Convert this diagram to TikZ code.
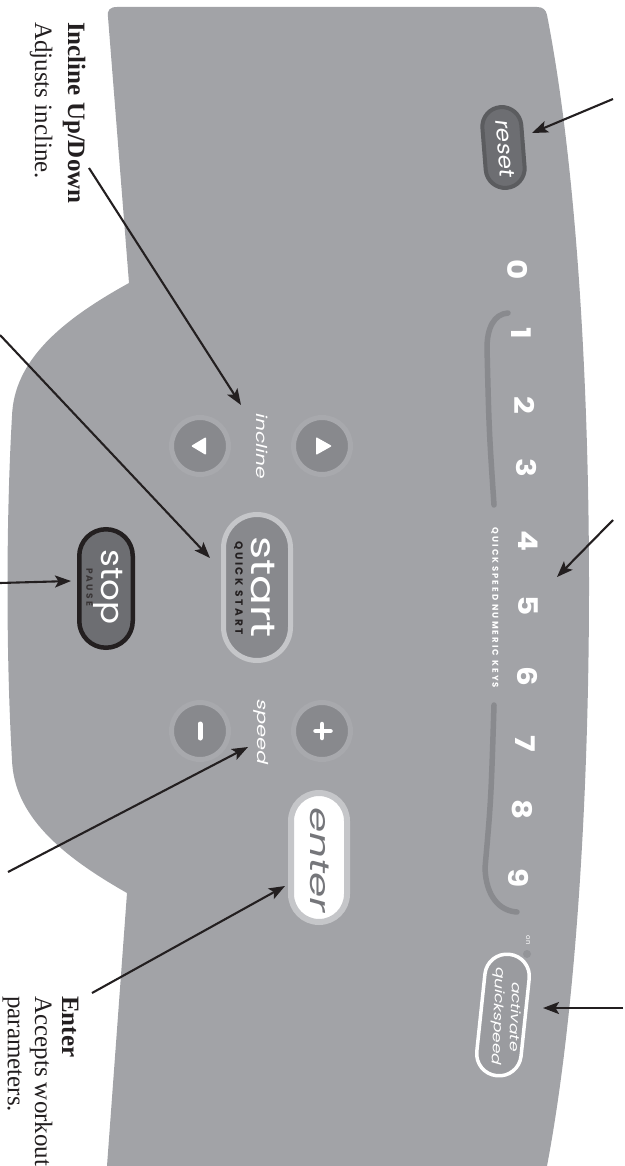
\documentclass[tikz,border=0pt]{standalone}
\usepackage{fontspec}
\setmainfont{Liberation Serif}
\newfontfamily\pf{Poppins}
\newfontfamily\pfi{Poppins}[FakeSlant=0.18]
\newfontfamily\pfs{Poppins}[LetterSpace=25]
\usetikzlibrary{arrows.meta}
\definecolor{panel}{HTML}{A2A3A7}
\definecolor{btn}{HTML}{88898D}
\definecolor{halo}{HTML}{A8A9AD}
\definecolor{rim}{HTML}{C5C6C9}
\definecolor{dkbtn}{HTML}{6D6E72}
\definecolor{rstrim}{HTML}{5B5C5F}
\definecolor{ink}{HTML}{231F20}
\definecolor{groove}{HTML}{898A8E}
\definecolor{actfill}{HTML}{9A9B9F}
\definecolor{entertxt}{HTML}{75767A}
\definecolor{led}{HTML}{939498}
\tikzset{
  callout/.style={draw=ink, line width=2.1pt, -{Stealth[length=16pt,width=12pt,inset=3.5pt]}},
  pill/.style={rectangle, rounded corners=#1, inner sep=0pt},
  roundbtn/.style={circle, fill=btn, draw=halo, line width=5pt, minimum size=57pt, inner sep=0pt},
  lbl/.style={rotate=-90, anchor=base west, inner sep=0pt, text=ink, font=\fontsize{25}{30}\selectfont},
  wtxt/.style={text=white, inner sep=0pt},
}
\begin{document}
\begin{tikzpicture}[x=1pt,y=-1pt]
\useasboundingbox (0,0) rectangle (624,1166);
\clip (0,0) rectangle (624,1166);
% panel
\fill[panel] (108,17) .. controls (107,10) and (110,7) .. (117,7) -- (537,7)
  .. controls (543,7) and (546,10) .. (547,15)
  .. controls (603,300) and (603,870) .. (547,1166) -- (107,1166) -- (127,893)
  .. controls (60,855) and (14,815) .. (12,760)
  .. controls (6,656) and (6,520) .. (12,416)
  .. controls (14,361) and (60,321) .. (129,283) -- cycle;
% groove
\draw[groove, line width=5.5pt, line cap=round] (508,313) .. controls (494,314) and (487,328) .. (487,348) .. controls (489,430) .. (494,505);
\draw[groove, line width=5.5pt, line cap=round] (494,705) .. controls (491,800) .. (485,868) .. controls (486,897) and (500,911) .. (517,912);
\node[rotate=-90, inner sep=0pt, text=white] (qslabel) at (495,608) {\fontsize{8.5}{8.5}\pfs\bfseries QUICKSPEED NUMERIC KEYS};
% reset
\node[pill=19.5pt, fill=dkbtn, draw=rstrim, line width=4pt, minimum width=81pt, minimum height=39pt, rotate=-85.5] (reset) at (503.5,147.5) {};
\node[wtxt, rotate=-85.5] (resettxt) at (505,147.5) {\scalebox{1.1}[1]{\fontsize{21}{21}\pfi reset}};
% numeric keys
\foreach \d/\xx/\yy in {0/518/270,1/521.6/333,2/524.7/405,3/526.6/468,4/527.8/541,5/528/606,6/527.1/676,7/525.3/744,8/522.7/810,9/519/878}
  \node[wtxt, rotate=-90] (key\d) at (\xx,\yy) {\scalebox{1.15}[1]{\fontsize{27}{27}\pf\bfseries \d}};
% on led
\node[rotate=-90, inner sep=0pt, text=white] (ontxt) at (528,940) {\fontsize{7}{7}\pf on};
\node[circle, fill=led, minimum size=8pt, inner sep=0pt] (led) at (527,954) {};
% activate quickspeed
\node[pill=22pt, fill=actfill, draw=white, line width=3.5pt, minimum width=122pt, minimum height=44.5pt, rotate=-96] (activate) at (503,1015) {};
\node[wtxt, rotate=-92.5, align=center, font=\fontsize{13}{17}\pfi] (acttxt) at (506,1015.5) {\scalebox{1.3}[1]{activate}\\\scalebox{1.3}[1]{quickspeed}};
% incline buttons
\node[roundbtn] (incdown) at (200,446) {};
\node[roundbtn] (incup) at (322,446) {};
\fill[white, rounded corners=1pt] (191,446) -- (206,437) -- (206,455) -- cycle;
\fill[white, rounded corners=1pt] (332,446) -- (316,437) -- (316,455) -- cycle;
\node[wtxt, rotate=-90] (incltxt) at (262,445) {\scalebox{1.35}[1]{\fontsize{15}{15}\pfi incline}};
% speed buttons
\node[roundbtn] (spdminus) at (200,731) {};
\node[roundbtn] (spdplus) at (322,731) {};
\draw[white, line width=4.5pt, line cap=round] (315.5,731) -- (330.5,731) (322,724) -- (322,738);
\draw[white, line width=5pt, line cap=round] (200,724) -- (200,738);
\node[wtxt, rotate=-90] (spdtxt) at (261,731) {\scalebox{1.4}[1]{\fontsize{15}{15}\pfi speed}};
% start
\node[pill=33.5pt, fill=btn, draw=rim, line width=5pt, minimum width=146pt, minimum height=67pt, rotate=-90] (start) at (257,587.5) {};
\node[wtxt, rotate=-90] (starttxt) at (263,587) {\scalebox{1.3}[1]{\fontsize{34}{34}\pf start}};
\node[rotate=-90, inner sep=0pt, text=ink] (qstart) at (238.5,588) {\fontsize{10.5}{10.5}\pfs\bfseries QUICK START};
% stop
\node[pill=26.75pt, fill=dkbtn, draw=ink, line width=4.5pt, minimum width=118.5pt, minimum height=53.5pt, rotate=-90] (stop) at (106,588.5) {};
\node[wtxt, rotate=-90] (stoptxt) at (108,587) {\scalebox{1.1}[1]{\fontsize{31}{31}\pf stop}};
\node[rotate=-90, inner sep=0pt, text=ink!90] (pause) at (89.5,587) {\fontsize{9}{9}\pfs\bfseries PAUSE};
% enter
\node[pill=28pt, fill=white, draw=rim, line width=6pt, minimum width=129pt, minimum height=56pt, rotate=-90] (enter) at (319,857.5) {};
\node[rotate=-90, inner sep=0pt, text=entertxt] (entertxt) at (319.5,858) {\scalebox{1.5}[1]{\fontsize{27}{27}\pfi enter}};
% labels
\node[lbl, font=\fontsize{25}{30}\selectfont\bfseries] (incllbl) at (68,22) {Incline Up/Down};
\node[lbl] (incldesc) at (35,22) {Adjusts incline.};
\node[lbl, font=\fontsize{25}{30}\selectfont\bfseries] (enterlbl) at (62,996) {Enter};
\node[lbl] (enterdesc1) at (35,996) {Accepts workout};
\node[lbl] (enterdesc2) at (8,996) {parameters.};
% callouts
\coordinate (a1s) at (89,168); \coordinate (a1e) at (241,405);
\coordinate (a2s) at (0,335); \coordinate (a2e) at (210,558);
\coordinate (a3s) at (0,583); \coordinate (a3e) at (71,581);
\coordinate (a4s) at (8,872); \coordinate (a4e) at (248,747);
\coordinate (a5s) at (92,993); \coordinate (a5e) at (285,886);
\coordinate (a6s) at (613,99); \coordinate (a6e) at (532,133);
\coordinate (a7s) at (613,520); \coordinate (a7e) at (557,577);
\coordinate (a8s) at (623,1008); \coordinate (a8e) at (543,1008);
\draw[callout] (a1s) -- (a1e);
\draw[callout] (a2s) -- (a2e);
\draw[callout] (a3s) -- (a3e);
\draw[callout] (a4s) -- (a4e);
\draw[callout] (a5s) -- (a5e);
\draw[callout] (a6s) -- (a6e);
\draw[callout] (a7s) -- (a7e);
\draw[callout] (a8s) -- (a8e);
\end{tikzpicture}
\end{document}
